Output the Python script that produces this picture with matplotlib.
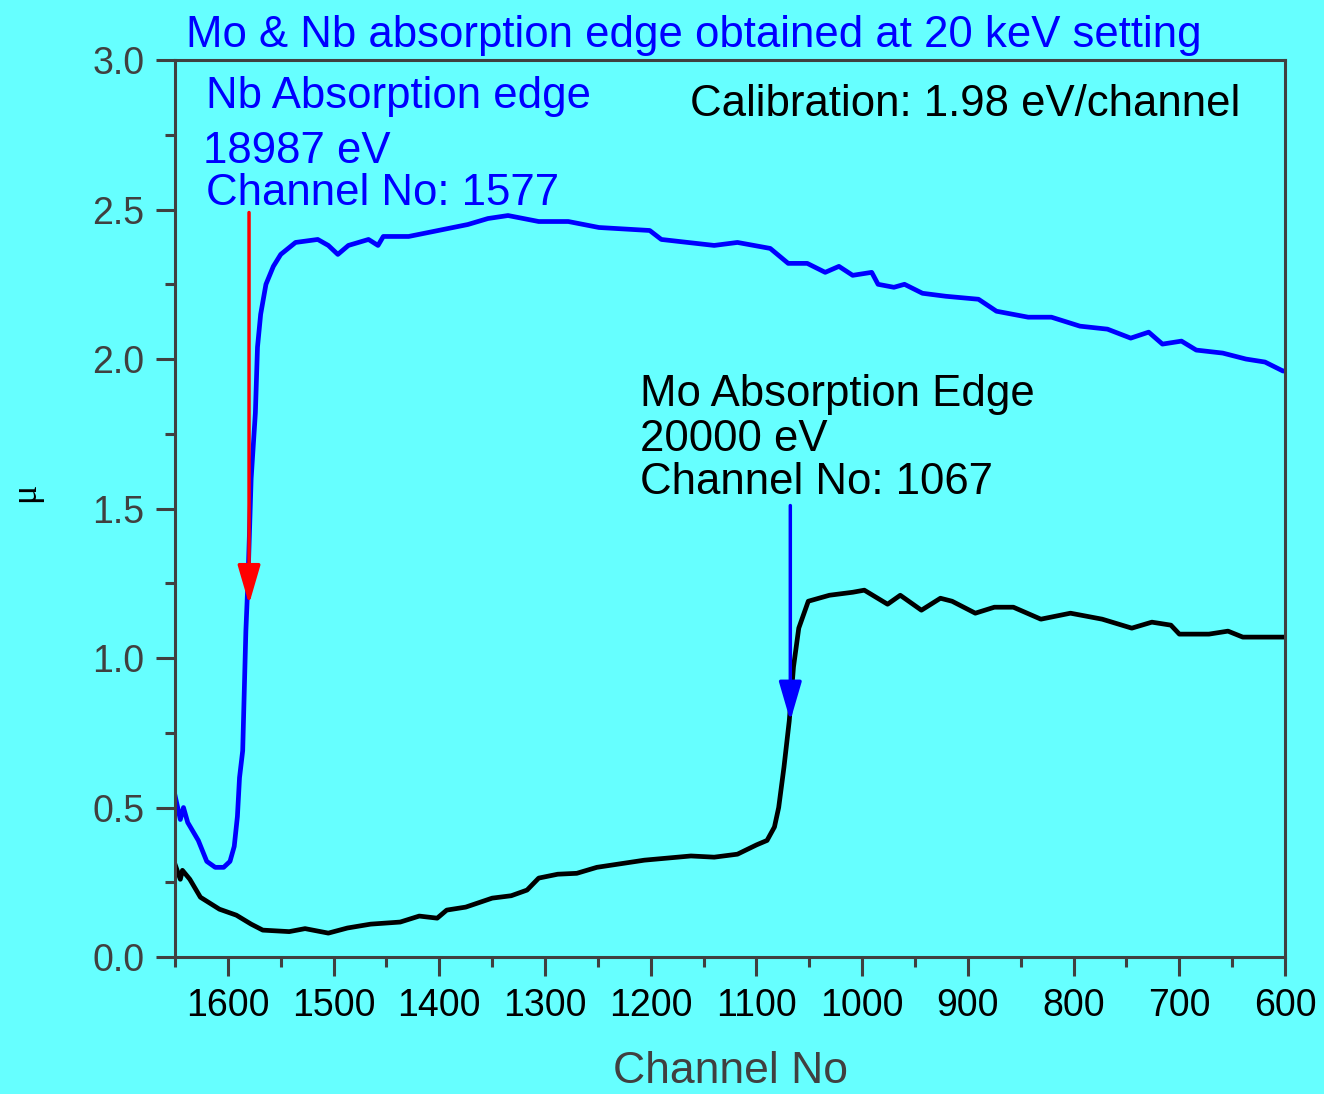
import matplotlib
matplotlib.use("Agg")
import matplotlib.pyplot as plt
from matplotlib.ticker import MultipleLocator

plt.rcParams['font.family'] = ['Liberation Sans', 'DejaVu Sans']

# Nb curve (blue)
nb_channel = [1650, 1645, 1642, 1638, 1628, 1620, 1612, 1604, 1598, 1594, 1591, 1589,
              1586, 1583, 1581, 1578, 1574, 1572, 1569, 1564, 1557, 1550, 1536, 1515,
              1505, 1496, 1486, 1467, 1458, 1453, 1429, 1401, 1373, 1354, 1335, 1306,
              1278, 1249, 1201, 1190, 1140, 1118, 1087, 1070, 1052, 1035, 1022, 1009,
              991, 985, 970, 960, 943, 921, 890, 873, 843, 821, 794, 768, 746, 729,
              716, 698, 684, 659, 637, 619, 602, 600]
nb_mu = [0.54, 0.46, 0.50, 0.45, 0.39, 0.32, 0.30, 0.30, 0.32, 0.37, 0.47, 0.60,
         0.69, 1.09, 1.26, 1.60, 1.82, 2.04, 2.15, 2.25, 2.31, 2.35, 2.39, 2.40,
         2.38, 2.35, 2.38, 2.40, 2.38, 2.41, 2.41, 2.43, 2.45, 2.47, 2.48, 2.46,
         2.46, 2.44, 2.43, 2.40, 2.38, 2.39, 2.37, 2.32, 2.32, 2.29, 2.31, 2.28,
         2.29, 2.25, 2.24, 2.25, 2.22, 2.21, 2.20, 2.16, 2.14, 2.14, 2.11, 2.10, 2.07, 2.09,
         2.05, 2.06, 2.03, 2.02, 2.00, 1.99, 1.96, 1.96]

# Mo curve (black)
mo_channel = [1650, 1645, 1643, 1636, 1626, 1608, 1592, 1578, 1567, 1542, 1527, 1505,
              1487, 1465, 1437, 1419, 1402, 1393, 1375, 1350, 1332, 1317, 1306, 1288,
              1270, 1251, 1206, 1162, 1140, 1118, 1100, 1090, 1083, 1079, 1074, 1069,
              1065, 1060, 1051, 1031, 1009, 998, 976, 964, 944, 926, 915, 893, 875,
              857, 831, 803, 773, 745, 726, 708, 700, 672, 654, 640, 618, 600]
mo_mu = [0.31, 0.26, 0.29, 0.26, 0.20, 0.16, 0.14, 0.11, 0.09, 0.085, 0.095, 0.08,
         0.097, 0.11, 0.117, 0.137, 0.13, 0.157, 0.167, 0.197, 0.205, 0.224, 0.264, 0.277,
         0.28, 0.30, 0.324, 0.338, 0.334, 0.344, 0.375, 0.39, 0.435, 0.50, 0.635, 0.79,
         0.97, 1.10, 1.19, 1.21, 1.22, 1.227, 1.18, 1.21, 1.16, 1.20, 1.19, 1.15, 1.17,
         1.17, 1.13, 1.15, 1.13, 1.10, 1.12, 1.11, 1.08, 1.08, 1.09, 1.07, 1.07, 1.07]

# arrows: (channel, mu start, mu end)
nb_arrow = (1580, 2.49, 1.18)
mo_arrow = (1068, 1.51, 0.79)

bg = '#66ffff'
grey = '#404040'
fs = 31.5

fig = plt.figure(figsize=(13.24, 10.94), dpi=100, facecolor=bg)
ax = fig.add_axes([0.1322, 0.1252, 0.8384, 0.8199], facecolor=bg)

ax.plot(mo_channel, mo_mu, color='black', lw=3.4, solid_joinstyle='round')
ax.plot(nb_channel, nb_mu, color='#0000ff', lw=3.4, solid_joinstyle='round')

ax.annotate('', xy=(nb_arrow[0], nb_arrow[2]), xytext=(nb_arrow[0], nb_arrow[1]),
            arrowprops=dict(arrowstyle='-|>,head_length=1.2,head_width=0.35',
                            color='#ff0000', lw=2.5, mutation_scale=20, shrinkA=0, shrinkB=0))
ax.annotate('', xy=(mo_arrow[0], mo_arrow[2]), xytext=(mo_arrow[0], mo_arrow[1]),
            arrowprops=dict(arrowstyle='-|>,head_length=1.2,head_width=0.35',
                            color='#0000ff', lw=2.5, mutation_scale=20, shrinkA=0, shrinkB=0))

ax.set_xlim(1650, 600)
ax.set_ylim(0, 3.0)
ax.xaxis.set_major_locator(MultipleLocator(100))
ax.xaxis.set_minor_locator(MultipleLocator(50))
ax.yaxis.set_major_locator(MultipleLocator(0.5))
ax.yaxis.set_minor_locator(MultipleLocator(0.25))
ax.yaxis.set_major_formatter(matplotlib.ticker.FormatStrFormatter('%.1f'))

for s in ax.spines.values():
    s.set_color(grey)
    s.set_linewidth(2.2)

ax.tick_params(which='major', direction='out', length=14, width=2.2, color=grey, pad=8)
ax.tick_params(which='minor', direction='out', length=7, width=2.2, color=grey)
ax.tick_params(axis='x', labelsize=27, labelcolor='black')
ax.tick_params(axis='y', labelsize=27, labelcolor=grey)

ax.set_xlabel('Channel No', fontsize=32, color=grey)
ax.xaxis.set_label_coords(0.5, -0.105)
ax.set_ylabel('μ', fontsize=26, color='black', family=['Liberation Serif', 'DejaVu Serif'])
ax.yaxis.set_label_coords(-0.12, 0.518)

fig.text(0.524, 0.968, 'Mo & Nb absorption edge obtained at 20 keV setting',
         ha='center', va='center', fontsize=fs, color='#0000ff')

ax.text(0.028, 0.959, 'Nb Absorption edge', transform=ax.transAxes,
        ha='left', va='center', fontsize=fs, color='#0000ff')
ax.text(0.025, 0.898, '18987 eV', transform=ax.transAxes,
        ha='left', va='center', fontsize=fs, color='#0000ff')
ax.text(0.028, 0.851, 'Channel No: 1577', transform=ax.transAxes,
        ha='left', va='center', fontsize=fs, color='#0000ff')
ax.text(0.464, 0.950, 'Calibration: 1.98 eV/channel', transform=ax.transAxes,
        ha='left', va='center', fontsize=fs, color='black')
ax.text(0.419, 0.627, 'Mo Absorption Edge', transform=ax.transAxes,
        ha='left', va='center', fontsize=fs, color='black')
ax.text(0.419, 0.577, '20000 eV', transform=ax.transAxes,
        ha='left', va='center', fontsize=fs, color='black')
ax.text(0.419, 0.529, 'Channel No: 1067', transform=ax.transAxes,
        ha='left', va='center', fontsize=fs, color='black')

fig.savefig('out.png', dpi=100, facecolor=bg)
